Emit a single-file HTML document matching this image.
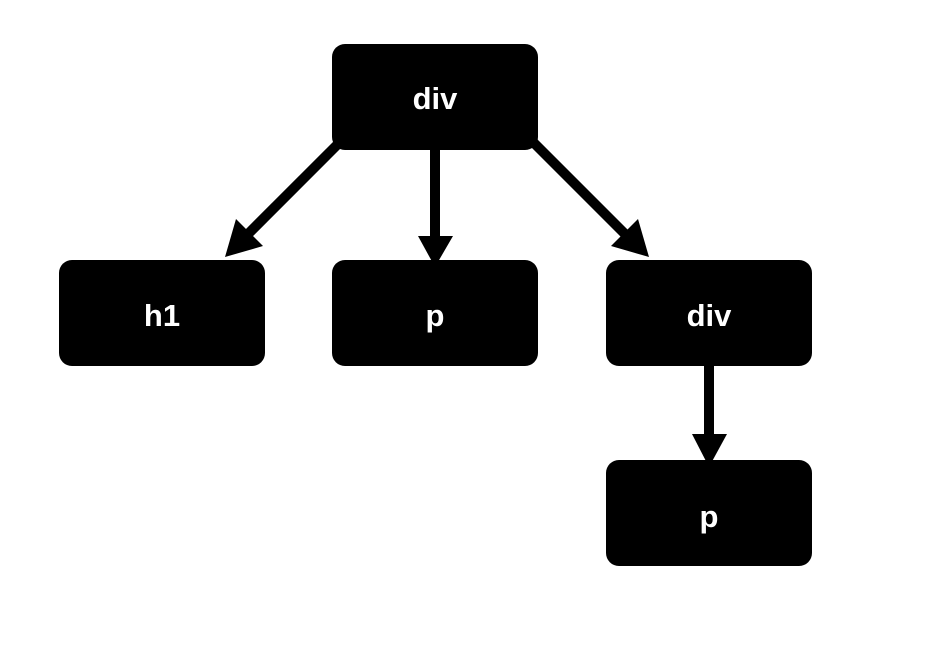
<!DOCTYPE html>
<html><head><style>
body{margin:0;background:#fff;width:930px;height:656px;overflow:hidden}
svg{display:block}
text{font-family:"Liberation Sans",sans-serif;font-weight:bold;font-size:31px;fill:#fff;text-anchor:middle}
</style></head><body>
<svg width="930" height="656" viewBox="0 0 930 656">
<rect x="332" y="44" width="206" height="106" rx="13" fill="#000"/>
<rect x="59" y="260" width="206" height="106" rx="13" fill="#000"/>
<rect x="332" y="260" width="206" height="106" rx="13" fill="#000"/>
<rect x="606" y="260" width="206" height="106" rx="13" fill="#000"/>
<rect x="606" y="460" width="206" height="106" rx="13" fill="#000"/>
<text x="435" y="109">div</text>
<text x="162" y="326">h1</text>
<text x="435" y="326">p</text>
<text x="709" y="326">div</text>
<text x="709" y="527">p</text>
<g stroke="#000" stroke-width="10" fill="none">
<line x1="338" y1="144" x2="246" y2="236"/>
<line x1="435" y1="148" x2="435" y2="240"/>
<line x1="534" y1="143" x2="628" y2="237"/>
<line x1="709" y1="364" x2="709" y2="440"/>
</g>
<g fill="#000">
<polygon points="225,257 236,219 263,246"/>
<polygon points="435,267 418,236 453,236"/>
<polygon points="649,257 611,246 638,219"/>
<polygon points="709,467 692,434 727,434"/>
</g>
</svg>
</body></html>
